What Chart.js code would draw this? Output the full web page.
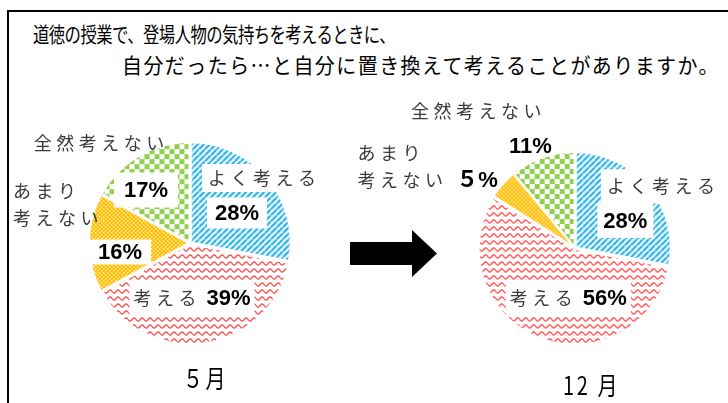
<!DOCTYPE html>
<html>
<head>
<meta charset="utf-8">
<script src="https://cdn.jsdelivr.net/npm/chart.js@4.4.0/dist/chart.umd.min.js"></script>
<style>
body { margin: 0; background: #fff; width: 728px; height: 403px; overflow: hidden; position: relative; font-family: "Noto Sans CJK JP", sans-serif; }
#frame { position: absolute; left: 7px; top: 10px; width: 740px; height: 420px; border-top: 2px solid #000; border-left: 2px solid #000; }
canvas { position: absolute; left: 0; top: 0; }
.t { position: absolute; white-space: nowrap; transform-origin: 0 50%; color: #000; line-height: 24px; }
</style>
</head>
<body>
<div id="frame"></div>
<div class="t" id="title1" style="font-size:21px">道徳の授業で、登場人物の気持ちを考えるときに、</div>
<div class="t" id="title2" style="font-size:21px">自分だったら…と自分に置き換えて考えることがありますか。</div>
<svg style="position:absolute;left:0;top:0" width="728" height="403">
  <polygon points="350,242 412,242 412,230 437,253.5 412,277 412,265 350,265" fill="#000"/>
</svg>
<canvas id="pieMay" width="728" height="403"></canvas>
<canvas id="pieDec" width="728" height="403"></canvas>
<div class="t" id="m1" style="font-size:25px;line-height:28px"></div>
<div class="t" id="m2" style="font-size:25px;line-height:28px"></div>
<script>
// data
const categories = ['よく考える', '考える', 'あまり考えない', '全然考えない'];
const may = [28, 39, 16, 17];
const dec = [28, 56, 5, 11];
const months = ['５月', '12 月'];

// pattern fills
function tile(w, h, draw) {
    const c = document.createElement('canvas');
    c.width = w; c.height = h;
    const g = c.getContext('2d');
    draw(g, w, h);
    return g.createPattern(c, 'repeat');
}
const blueStripes = tile(6, 6, (g, w, h) => {
    g.fillStyle = '#fff'; g.fillRect(0, 0, w, h);
    g.strokeStyle = '#1eb0e8'; g.lineWidth = 2.2;
    g.beginPath();
    for (let k = -1; k <= 1; k++) { g.moveTo(k * w, h); g.lineTo((k + 1) * w, 0); }
    g.stroke();
});
const redWaves = tile(8, 7, (g, w, h) => {
    g.fillStyle = '#fff'; g.fillRect(0, 0, w, h);
    g.strokeStyle = '#ff2a2a'; g.lineWidth = 1.2;
    g.beginPath();
    for (let x = 0; x <= w; x += 0.5) {
        const y = 3.5 + 1.6 * Math.sin(2 * Math.PI * x / w);
        if (x == 0) g.moveTo(x, y); else g.lineTo(x, y);
    }
    g.stroke();
});
const orangeDots = tile(4, 4, (g, w, h) => {
    g.fillStyle = '#ffbf00'; g.fillRect(0, 0, w, h);
    g.fillStyle = '#fff3c8';
    g.fillRect(0, 0, 1.5, 1.5);
    g.fillRect(2, 2, 1.5, 1.5);
});
const greenCheck = tile(10, 10, (g, w, h) => {
    g.fillStyle = '#fff'; g.fillRect(0, 0, w, h);
    g.fillStyle = '#8fd14f';
    g.fillRect(0, 0, 5, 5);
    g.fillRect(5, 5, 5, 5);
});
const fills = [blueStripes, redWaves, orangeDots, greenCheck];

// label placement, in units of the pie radius from its centre
const placeMay = [
    { name: { dx: 0.72, dy: -0.65, box: [6, 5] }, value: { dx: 0.47, dy: -0.30, box: [8, 7] } },
    { inline: { dx: 0.02, dy: 0.55, box: [4, 8] } },
    { name: { dx: -1.77, dy: -0.52, align: 'left', wrap: 3, lh: 27 }, value: { dx: -0.70, dy: 0.09, box: [9, 4] } },
    { name: { dx: -0.91, dy: -1.00 }, value: { dx: -0.44, dy: -0.53, box: [10, 9] } }
];
const placeDec = [
    { name: { dx: 0.905, dy: -0.65, box: [6, 8] }, value: { dx: 0.53, dy: -0.29, box: [6, 9] } },
    { inline: { dx: -0.07, dy: 0.53, box: [4, 8] } },
    { name: { dx: -2.29, dy: -1.0, align: 'left', wrap: 3, lh: 27 }, value: { dx: -1.03, dy: -0.72 } },
    { name: { dx: -1.04, dy: -1.44 }, value: { dx: -0.47, dy: -1.07 } }
];

const NAME_FONT = '18px "Noto Sans CJK JP"';
const VALUE_FONT = 'bold 22px "Liberation Sans", "Noto Sans CJK JP"';
const SP = 4.5;

function pct(v) {
    return (v < 10 ? String.fromCharCode(0xFF10 + v) : String(v)) + '%';
}
function spacedWidth(ctx, s) {
    let w = 0;
    for (const ch of s) w += ctx.measureText(ch).width;
    return w + SP * ([...s].length - 1);
}
function drawSpaced(ctx, s, x, y) {
    for (const ch of s) {
        ctx.fillText(ch, x, y);
        x += ctx.measureText(ch).width + SP;
    }
}
function whiteBox(ctx, x, y, w, h, pad) {
    if (!pad) return;
    ctx.fillStyle = '#fff';
    ctx.fillRect(x - pad[0], y - h / 2 - pad[1], w + 2 * pad[0], h + 2 * pad[1]);
}

function sliceLabels(place) {
    return {
        id: 'sliceLabels',
        afterDatasetsDraw(chart) {
            const ctx = chart.ctx;
            const arc = chart.getDatasetMeta(0).data[0];
            const cx = arc.x, cy = arc.y, R = arc.outerRadius;
            const vals = chart.data.datasets[0].data;
            ctx.save();
            ctx.textBaseline = 'middle';
            ctx.textAlign = 'left';
            place.forEach((p, i) => {
                const name = chart.data.labels[i];
                const val = pct(vals[i]);
                if (p.inline) {
                    ctx.font = NAME_FONT;
                    const nw = spacedWidth(ctx, name);
                    ctx.font = VALUE_FONT;
                    const vw = ctx.measureText(val).width;
                    const total = nw + 10 + vw;
                    const x = cx + p.inline.dx * R - total / 2, y = cy + p.inline.dy * R;
                    whiteBox(ctx, x, y, total, 20, p.inline.box);
                    ctx.fillStyle = '#3a3a3a'; ctx.font = NAME_FONT;
                    drawSpaced(ctx, name, x, y);
                    ctx.fillStyle = '#000'; ctx.font = VALUE_FONT;
                    ctx.fillText(val, x + nw + 10, y + 1);
                    return;
                }
                if (p.name) {
                    const lines = p.name.wrap ? [name.slice(0, p.name.wrap), name.slice(p.name.wrap)] : [name];
                    ctx.font = NAME_FONT;
                    lines.forEach((ln, k) => {
                        const w = spacedWidth(ctx, ln);
                        const y = cy + p.name.dy * R + k * (p.name.lh || 0);
                        const x = p.name.align == 'left' ? cx + p.name.dx * R : cx + p.name.dx * R - w / 2;
                        whiteBox(ctx, x, y, w, 18, p.name.box);
                        ctx.fillStyle = '#3a3a3a';
                        drawSpaced(ctx, ln, x, y);
                    });
                }
                if (p.value) {
                    ctx.font = VALUE_FONT;
                    const w = ctx.measureText(val).width;
                    const x = cx + p.value.dx * R - w / 2, y = cy + p.value.dy * R;
                    whiteBox(ctx, x, y, w, 17, p.value.box);
                    ctx.fillStyle = '#000';
                    ctx.fillText(val, x, y + 1);
                }
            });
            ctx.restore();
        }
    };
}

function makePie(id, values, place, padding) {
    return new Chart(document.getElementById(id), {
        type: 'pie',
        data: {
            labels: categories,
            datasets: [{
                data: values,
                backgroundColor: fills,
                borderColor: '#fff',
                borderWidth: 2,
                offset: 4
            }]
        },
        options: {
            responsive: false,
            animation: false,
            events: [],
            layout: { padding: padding },
            plugins: { legend: { display: false }, tooltip: { enabled: false } }
        },
        plugins: [sliceLabels(place)]
    });
}

makePie('pieMay', may, placeMay, { left: 87, top: 140, right: 435, bottom: 57 });
makePie('pieDec', dec, placeDec, { left: 477, top: 150, right: 55, bottom: 57 });

// squeeze / spread html text to the width it has in the picture
function fit(id, text, left, top, width, sx) {
    const el = document.getElementById(id);
    if (text) el.textContent = text;
    el.style.left = left + 'px';
    el.style.top = top + 'px';
    const n = [...el.textContent].length;
    const w = el.getBoundingClientRect().width;
    el.style.letterSpacing = ((width / sx - w) / n) + 'px';
    el.style.transform = 'scaleX(' + sx + ')';
}
fit('title1', null, 33, 21, 362, 0.78);
fit('title2', null, 122, 52, 598, 0.95);
fit('m1', months[0], 183, 363, 45, 0.8);
fit('m2', months[1], 563, 370, 57, 0.8);
</script>
</body>
</html>
